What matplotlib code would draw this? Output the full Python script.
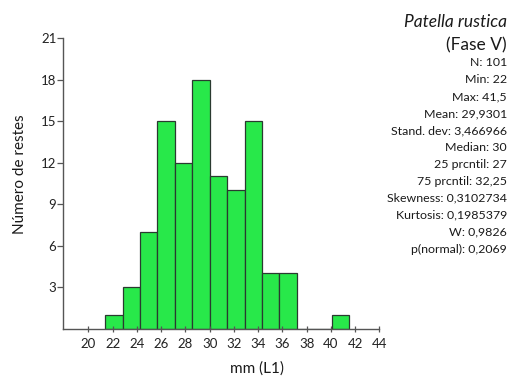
import matplotlib
matplotlib.use("Agg")
import matplotlib.pyplot as plt
import numpy as np

plt.rcParams['font.family'] = ['Lato', 'DejaVu Sans']

# Histogram of shell length L1 (mm)
bin_start = 21.375
bin_width = 1.4375
counts = [1, 3, 7, 15, 12, 18, 11, 10, 15, 4, 4, 0, 0, 1]

x_ticks = list(range(20, 45, 2))
y_ticks = [3, 6, 9, 12, 15, 18, 21]

title_lines = ["Patella rustica", "(Fase V)"]
stats_lines = [
    "N: 101",
    "Min: 22",
    "Max: 41,5",
    "Mean: 29,9301",
    "Stand. dev: 3,466966",
    "Median: 30",
    "25 prcntil: 27",
    "75 prcntil: 32,25",
    "Skewness: 0,3102734",
    "Kurtosis: 0,1985379",
    "W: 0,9826",
    "p(normal): 0,2069",
]

W, H = 531, 378
fig = plt.figure(figsize=(W / 100, H / 100), dpi=100)
ax = fig.add_axes([63.3 / W, 1 - 328.7 / H, (379.5 - 63.3) / W, (328.7 - 38) / H])

lefts = bin_start + bin_width * np.arange(len(counts))
ax.bar(lefts, counts, width=bin_width, align='edge',
       color='#28e84a', edgecolor='#2a3a30', linewidth=0.9)

ax.set_xlim(17.93, 44.0)
ax.set_ylim(0, 21)
ax.set_xticks(x_ticks)
ax.set_yticks(y_ticks)

for s in ['top', 'right']:
    ax.spines[s].set_visible(False)
for s in ['left', 'bottom']:
    ax.spines[s].set_color('#555555')
    ax.spines[s].set_linewidth(1.0)

ax.tick_params(axis='x', direction='inout', length=5, width=0.9, color='#555555',
               labelsize=9.5, labelcolor='#222222', pad=4)
ax.tick_params(axis='y', direction='out', length=4, width=0.9, color='#555555',
               labelsize=9.5, labelcolor='#222222', pad=1)

fig.text(257 / W, 1 - 369 / H, "mm (L1)", ha='center', va='center',
         fontsize=11, color='#1a1a1a')
fig.text(20 / W, 1 - 174 / H, "Número de restes", ha='center', va='center',
         rotation=90, fontsize=11, color='#1a1a1a')

right_x = 507 / W
fig.text(right_x, 1 - 21.7 / H, title_lines[0], ha='right', va='center',
         fontsize=12.5, style='italic', color='#1a1a1a')
fig.text(right_x, 1 - 45 / H, title_lines[1], ha='right', va='center',
         fontsize=12.5, color='#1a1a1a')

y0, dy = 62.7, (249 - 62.7) / (len(stats_lines) - 1)
for i, line in enumerate(stats_lines):
    fig.text(right_x, 1 - (y0 + i * dy) / H, line, ha='right', va='center',
             fontsize=8.9, color='#1a1a1a')

fig.savefig("out.png", dpi=100, facecolor='white')
